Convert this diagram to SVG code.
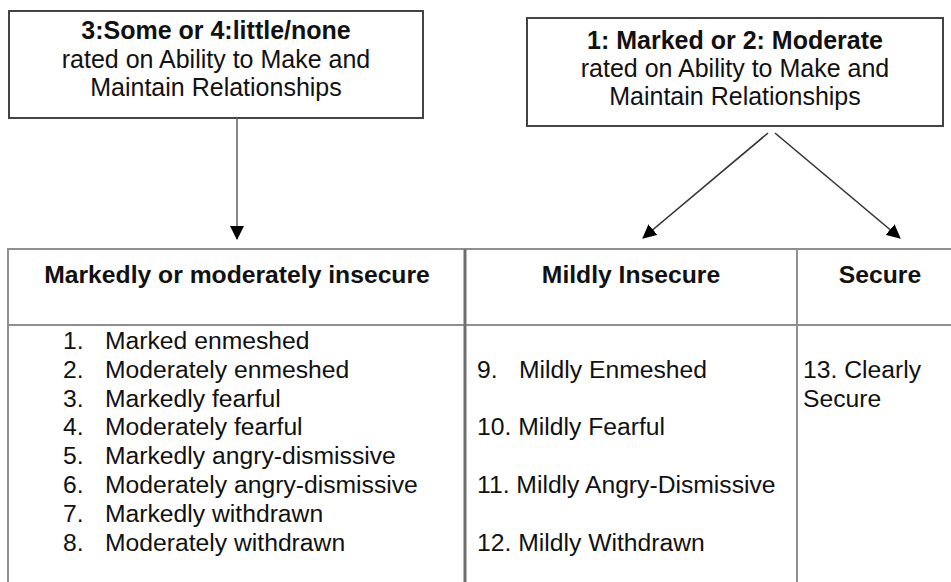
<svg xmlns="http://www.w3.org/2000/svg" width="951" height="582" viewBox="0 0 951 582">
  <defs>
    <marker id="head" viewBox="0 0 14 14" refX="13" refY="7" markerWidth="14" markerHeight="14" markerUnits="userSpaceOnUse" orient="auto">
      <path d="M0,0 L14,7 L0,14 Z" fill="#000"/>
    </marker>
    <style>
      text { font-family: "Liberation Sans", Arial, sans-serif; fill: #111; }
      .t { font-size: 24.7px; }
      .h { font-size: 25px; }
      .b { font-weight: bold; }
      .mid { text-anchor: middle; }
      .box { fill: #fff; stroke: #444; stroke-width: 2; }
      .grid { stroke: #8f8f8f; stroke-width: 2; fill: none; }
      .split { stroke: #6f6f6f; stroke-width: 3; fill: none; }
      .edge { stroke: #333; stroke-width: 1.6; fill: none; marker-end: url(#head); }
      .drop { stroke: #666; }
    </style>
  </defs>
  <rect width="951" height="582" fill="#fff"/>

  <!-- rating boxes -->
  <g id="low-rating">
    <rect class="box" x="9" y="11" width="414" height="107"/>
    <text class="h b mid" x="216" y="39">3:Some or 4:little/none</text>
    <text class="h mid" x="216" y="67.5">rated on Ability to Make and</text>
    <text class="h mid" x="216" y="96">Maintain Relationships</text>
  </g>
  <g id="high-rating">
    <rect class="box" x="527" y="18" width="416" height="108"/>
    <text class="h b mid" x="735" y="49">1: Marked or 2: Moderate</text>
    <text class="h mid" x="735" y="77">rated on Ability to Make and</text>
    <text class="h mid" x="735" y="105">Maintain Relationships</text>
  </g>

  <!-- connectors -->
  <g id="connectors">
    <line class="edge drop" x1="237" y1="118" x2="237" y2="239"/>
    <line class="edge" x1="768" y1="133" x2="643" y2="238"/>
    <line class="edge" x1="775" y1="133" x2="900" y2="238"/>
  </g>

  <!-- classification table -->
  <g id="table-grid">
    <polyline class="grid" points="8,582 8,249 951,249"/>
    <line class="grid" x1="8" y1="325" x2="951" y2="325"/>
    <line class="split" x1="465" y1="249" x2="465" y2="582"/>
    <line class="grid" x1="797" y1="249" x2="797" y2="582"/>
  </g>

  <g id="insecure">
    <text class="t b mid" x="237" y="283">Markedly or moderately insecure</text>
    <g class="t">
      <text x="63" y="349">1.</text><text x="105" y="349">Marked enmeshed</text>
      <text x="63" y="377.8">2.</text><text x="105" y="377.8">Moderately enmeshed</text>
      <text x="63" y="406.6">3.</text><text x="105" y="406.6">Markedly fearful</text>
      <text x="63" y="435.4">4.</text><text x="105" y="435.4">Moderately fearful</text>
      <text x="63" y="464.2">5.</text><text x="105" y="464.2">Markedly angry-dismissive</text>
      <text x="63" y="493">6.</text><text x="105" y="493">Moderately angry-dismissive</text>
      <text x="63" y="521.8">7.</text><text x="105" y="521.8">Markedly withdrawn</text>
      <text x="63" y="550.6">8.</text><text x="105" y="550.6">Moderately withdrawn</text>
    </g>
  </g>

  <g id="mildly-insecure">
    <text class="t b mid" x="631" y="283">Mildly Insecure</text>
    <g class="t">
      <text x="477" y="377.8">9.</text><text x="519" y="377.8">Mildly Enmeshed</text>
      <text x="477" y="435.4">10. Mildly Fearful</text>
      <text x="477" y="493">11. Mildly Angry-Dismissive</text>
      <text x="477" y="550.6">12. Mildly Withdrawn</text>
    </g>
  </g>

  <g id="secure">
    <text class="t b mid" x="880" y="283">Secure</text>
    <g class="t">
      <text x="803" y="377.8">13. Clearly</text>
      <text x="803" y="406.6">Secure</text>
    </g>
  </g>
</svg>
